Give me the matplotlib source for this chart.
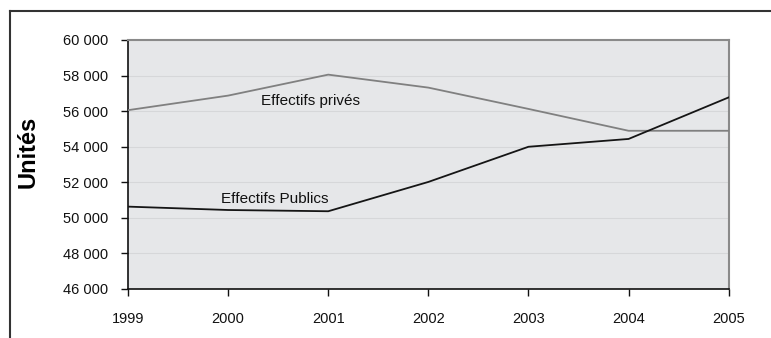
import matplotlib
matplotlib.use("Agg")
import matplotlib.pyplot as plt
from matplotlib.lines import Line2D
from matplotlib.ticker import FuncFormatter

years = [1999, 2000, 2001, 2002, 2003, 2004, 2005]
prives = [56050, 56870, 58050, 57320, 56120, 54890, 54890]
publics = [50620, 50430, 50360, 52010, 53990, 54430, 56770]
yticks = [46000, 48000, 50000, 52000, 54000, 56000, 58000, 60000]

plt.rcParams['font.family'] = ['Liberation Sans', 'DejaVu Sans']

fig = plt.figure(figsize=(7.71, 3.38), dpi=100)
ax = fig.add_axes([128/771, 1-288.7/338, (728.7-128)/771, (288.7-40)/338])
ax.set_facecolor('#e6e7e9')

ax.plot(years, prives, color='#808080', lw=1.3, zorder=3)
ax.plot(years, publics, color='#151515', lw=1.3, zorder=3)

ax.set_xlim(1999, 2005)
ax.set_ylim(46000, 60000)
ax.set_yticks(yticks)
ax.set_xticks(years)
ax.yaxis.set_major_formatter(FuncFormatter(lambda v, p: f"{int(v):,}".replace(",", " ")))
ax.grid(axis='y', color='#d6d7d9', lw=0.8, zorder=1)
ax.set_axisbelow(True)

for s in ['left', 'bottom']:
    ax.spines[s].set_color('#111111')
    ax.spines[s].set_linewidth(1.2)
for s in ['top', 'right']:
    ax.spines[s].set_color('#8a8a8a')
    ax.spines[s].set_linewidth(1.5)

ax.tick_params(axis='y', direction='out', length=5, width=1, pad=9, labelsize=10.5, colors='#111111')
ax.tick_params(axis='x', direction='out', length=5, width=1, pad=12, labelsize=10.5, colors='#111111')

ax.set_ylabel('Unités', fontsize=17, fontweight='bold')
ax.yaxis.set_label_coords(-0.147, 0.55)

ax.text(2000.82, 56560, 'Effectifs privés', fontsize=11, ha='center', va='center', color='#111111')
ax.text(2000.47, 51070, 'Effectifs Publics', fontsize=11, ha='center', va='center', color='#111111')

# outer frame (cut off at right and bottom)
fig.add_artist(Line2D([10/771, 10/771], [0, 1-10.5/338], transform=fig.transFigure, color='#333333', lw=1.5))
fig.add_artist(Line2D([10/771, 1], [1-10.5/338, 1-10.5/338], transform=fig.transFigure, color='#333333', lw=1.5))

fig.savefig('out.png', dpi=100)
